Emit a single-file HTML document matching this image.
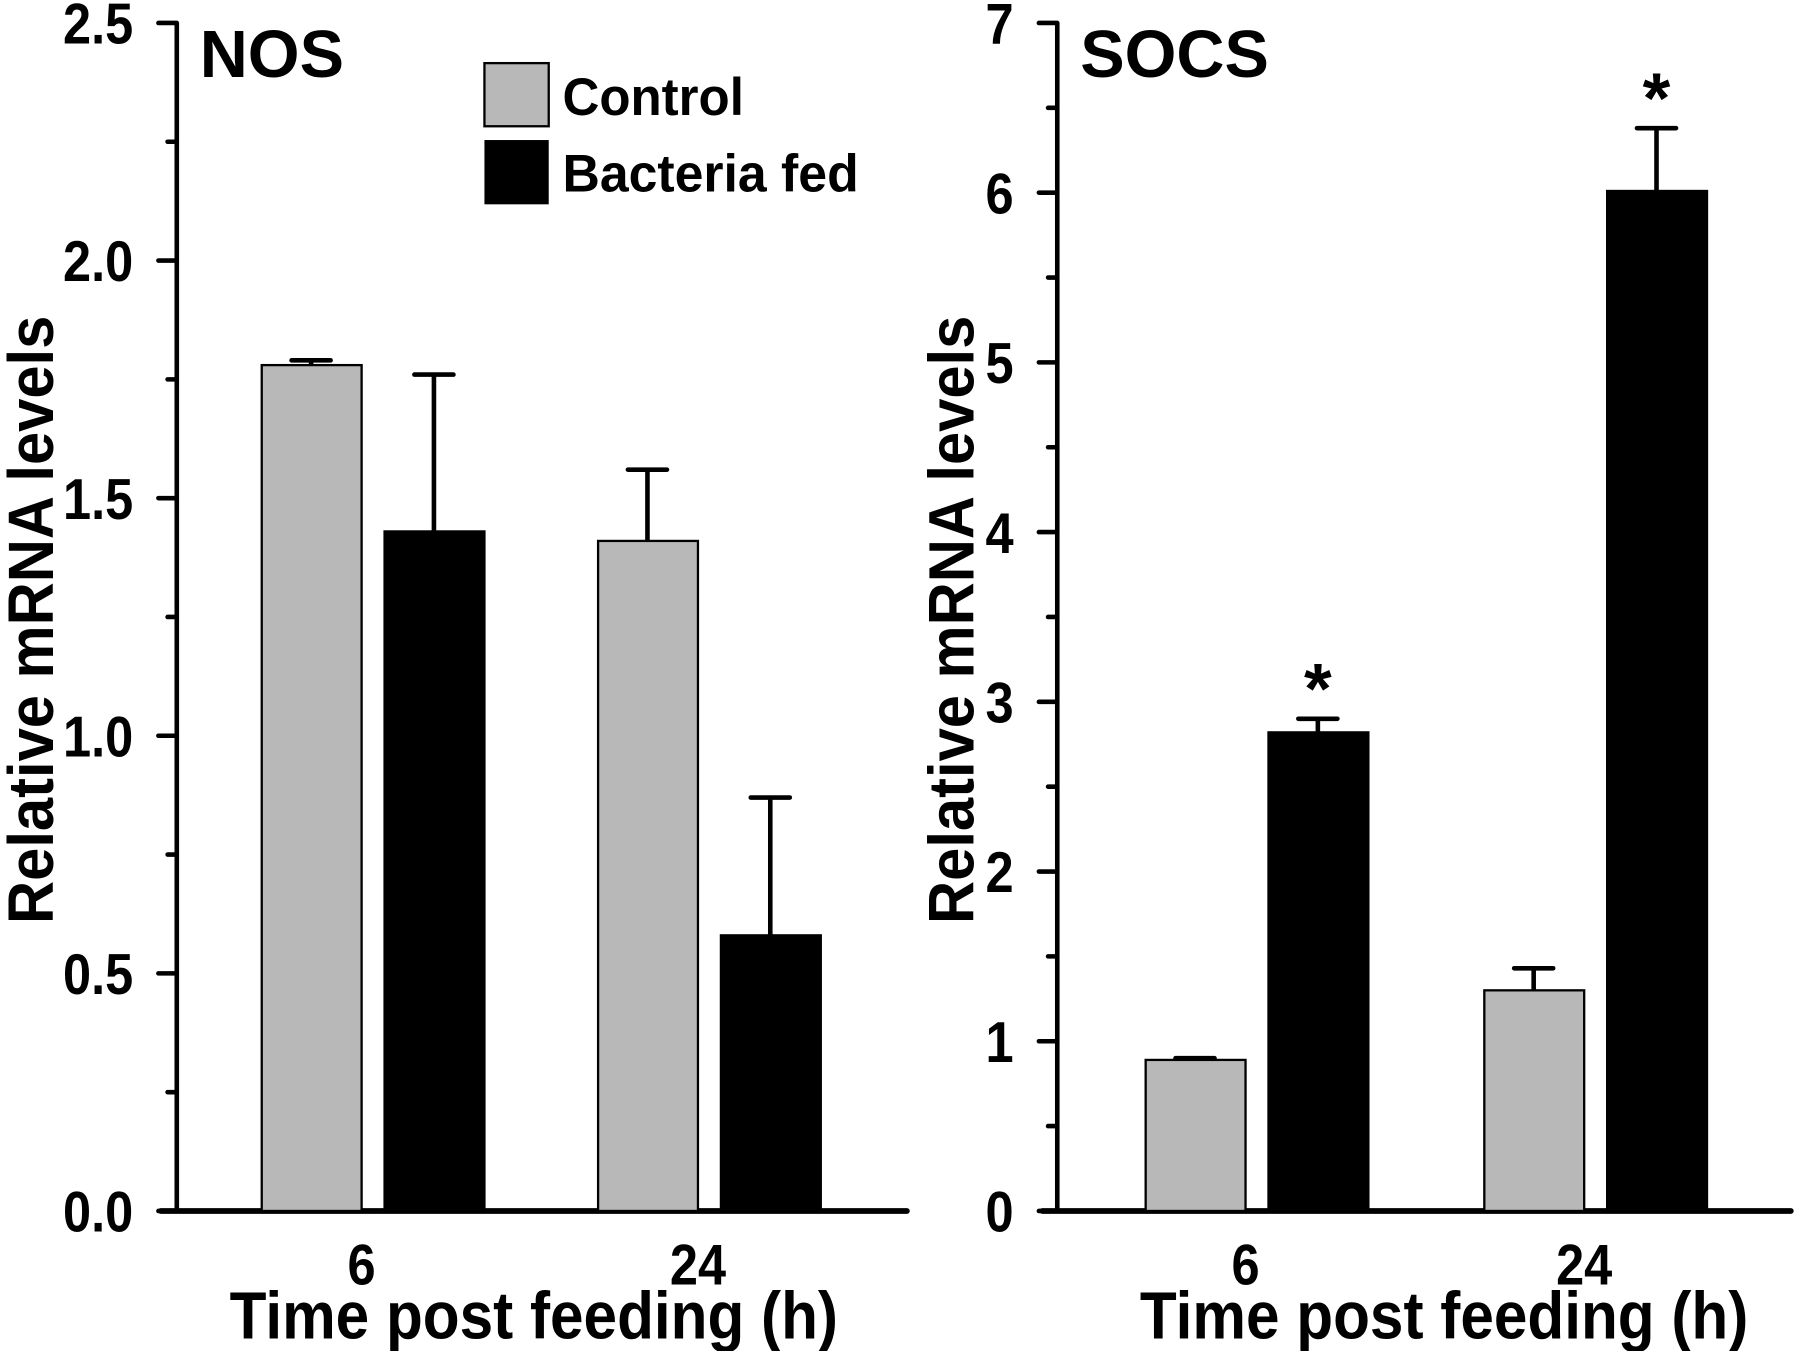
<!DOCTYPE html>
<html><head><meta charset="utf-8"><style>
html,body{margin:0;padding:0;background:#fff;}
svg{display:block;}
text{font-family:"Liberation Sans",Arial,sans-serif;font-weight:bold;fill:#000;}
</style></head><body>
<svg id="chart" width="1800" height="1351" viewBox="0 0 1568 1177" preserveAspectRatio="none" xmlns="http://www.w3.org/2000/svg">
<g id="g"></g>
</svg>
<script>
const groups = ["6", "24"];
const nosControl = [1.78, 1.41];
const nosControlErr = [0.01, 0.15];
const nosBacteria = [1.43, 0.58];
const nosBacteriaErr = [0.33, 0.29];
const socsControl = [0.89, 1.30];
const socsControlErr = [0.01, 0.13];
const socsBacteria = [2.82, 6.01];
const socsBacteriaErr = [0.08, 0.37];
const socsStars = [true, true];
const nosTicks = ["0.0","0.5","1.0","1.5","2.0","2.5"];
const socsTicks = ["0","1","2","3","4","5","6","7"];

const NS="http://www.w3.org/2000/svg";
const root=document.getElementById('g');
function mk(tag,attrs,parent){const e=document.createElementNS(NS,tag);for(const k in attrs)e.setAttribute(k,attrs[k]);(parent||root).appendChild(e);return e;}
function squeeze(el,f){const w=el.getComputedTextLength();el.setAttribute('textLength',(w*f).toFixed(1));el.setAttribute('lengthAdjust','spacingAndGlyphs');}

function panel(cfg){
  const y0=1055, yTop=20;
  const ys=v=>y0-(v/cfg.max)*(y0-yTop);
  const g=mk('g',{});
  
  
  const ya=mk('line',{x1:cfg.ax,y1:yTop,x2:cfg.ax,y2:y0+2,stroke:'#000','stroke-width':4},g);
  
  
  const xa=mk('line',{x1:cfg.xl,y1:y0,x2:cfg.xr,y2:y0,stroke:'#000','stroke-width':5,'stroke-linecap':'round'},g);
  
  
  let k=0;
  for(let v=0;v<=cfg.max+1e-9;v+=cfg.minor,k++){
    const isMajor=(k%2===0);
    const t=mk('line',{x1:cfg.ax-(isMajor?16:8),y1:ys(v),x2:cfg.ax,y2:ys(v),stroke:'#000','stroke-width':4,'stroke-linecap':'round'},g);
    
    
  }
  cfg.ticks.forEach((lab,i)=>{
    const v=i*cfg.major;
    const t=mk('text',{x:cfg.ax-38,y:ys(v)+18,'text-anchor':'end','font-size':50},g);
    t.textContent=lab;
    
    
    squeeze(t,0.88);
  });
  groups.forEach((gl,i)=>{
    const c=cfg.centers[i];
    const specs=[[cfg.ctrl[i],cfg.ctrlErr[i],c-54,'#b8b8b8','control'],[cfg.bact[i],cfg.bactErr[i],c+53,'#000','bacteria']];
    specs.forEach(s=>{
      const [v,e,cx,fill,nm]=s;
      const el=mk('line',{x1:cx,y1:ys(v),x2:cx,y2:ys(v+e),stroke:'#000','stroke-width':4},g);
      
      
      const cap=mk('line',{x1:cx-17,y1:ys(v+e),x2:cx+17,y2:ys(v+e),stroke:'#000','stroke-width':4,'stroke-linecap':'round'},g);
      
      
      const r=mk('rect',{x:cx-43,y:ys(v),width:87,height:y0-ys(v),fill:fill,stroke:'#000','stroke-width':2},g);
      
      
      if(cfg.stars&&nm==='bacteria'&&cfg.stars[i]){
        const st=mk('text',{x:cx,y:ys(v+e)-5,'text-anchor':'middle','font-size':62},g);
        st.textContent='*';
        
        
      }
    });
    const xl=mk('text',{x:c-10,y:1119,'text-anchor':'middle','font-size':50},g);
    xl.textContent=gl;
    
    
    squeeze(xl,0.88);
  });
  const xt=mk('text',{x:cfg.xtc,y:1166,'text-anchor':'middle','font-size':58},g);
  xt.textContent='Time post feeding (h)';
  
  
  xt.setAttribute('textLength','530');
  xt.setAttribute('lengthAdjust','spacingAndGlyphs');
  const yt=mk('text',{x:0,y:0,'text-anchor':'middle','font-size':56,transform:`translate(${cfg.ytx},540) rotate(-90)`},g);
  yt.textContent='Relative mRNA levels';
  
  
  yt.setAttribute('textLength','530');
  yt.setAttribute('lengthAdjust','spacingAndGlyphs');
  const ti=mk('text',{x:cfg.ax+20,y:67,'font-size':58},g);
  ti.textContent=cfg.title;
  
  
}
panel({name:'nos',title:'NOS',ax:154,xl:140,xr:790,max:2.5,major:0.5,minor:0.25,ticks:nosTicks,centers:[325,618],ctrl:nosControl,ctrlErr:nosControlErr,bact:nosBacteria,bactErr:nosBacteriaErr,xtc:465,ytx:46});
panel({name:'socs',title:'SOCS',ax:921,xl:908,xr:1560,max:7,major:1,minor:0.5,ticks:socsTicks,centers:[1095,1390],ctrl:socsControl,ctrlErr:socsControlErr,bact:socsBacteria,bactErr:socsBacteriaErr,stars:socsStars,xtc:1258,ytx:848});
const lg=mk('g',{});


const l1=mk('rect',{x:422,y:55,width:56,height:55,fill:'#b8b8b8',stroke:'#000','stroke-width':2},lg);


const t1=mk('text',{x:490,y:100,'font-size':46},lg);
t1.textContent='Control';


t1.setAttribute('textLength','158');
t1.setAttribute('lengthAdjust','spacingAndGlyphs');
const l2=mk('rect',{x:422,y:122,width:56,height:56,fill:'#000'},lg);


const t2=mk('text',{x:490,y:167,'font-size':46},lg);
t2.textContent='Bacteria fed';


t2.setAttribute('textLength','258');
t2.setAttribute('lengthAdjust','spacingAndGlyphs');
</script>
</body></html>
